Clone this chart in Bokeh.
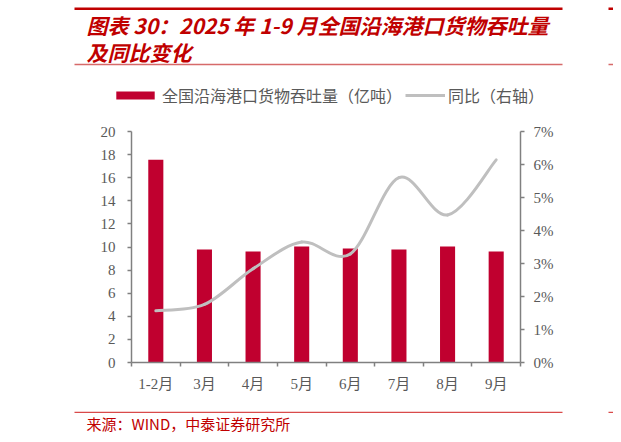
import numpy as np
from bokeh.plotting import figure
from bokeh.layouts import column
from bokeh.models import (Range1d, LinearAxis, FixedTicker, SingleIntervalTicker,
                          PrintfTickFormatter, Legend, LegendItem)
from bokeh.core.properties import value
from bokeh.embed import file_html
from bokeh.resources import INLINE

# ---- data ----
months = ["1-2月", "3月", "4月", "5月", "6月", "7月", "8月", "9月"]
throughput = [17.55, 9.78, 9.61, 10.04, 9.87, 9.78, 10.04, 9.61]   # 亿吨
yoy = [1.57, 1.76, 2.84, 3.65, 3.29, 5.60, 4.47, 6.14]             # %

title_1 = "图表 30：2025 年 1-9 月全国沿海港口货物吞吐量"
title_2 = "及同比变化"
source = "来源：WIND，中泰证券研究所"
bar_label = "全国沿海港口货物吞吐量（亿吨）"
line_label = "同比（右轴）"

RED = "#C0002F"
TITLE_RED = "#C00000"
LINE_GRAY = "#BFBFBF"
AXIS_GRAY = "#808080"
LABEL_GRAY = "#595959"
CJK = "Noto Sans CJK SC"

W = 613
TOP_H, MAIN_H, BOT_H = 115, 285, 34   # page bands 0-115, 115-400, 400-434


def blank(height, y0, y1):
    f = figure(width=W, height=height, output_backend="svg", toolbar_location=None,
               x_range=Range1d(0, W), y_range=Range1d(y1, y0),
               x_axis_location=None, y_axis_location=None, frame_align=False,
               min_border=0, min_border_left=0, min_border_right=0,
               min_border_top=0, min_border_bottom=0)
    f.outline_line_color = None
    f.xgrid.visible = False
    f.ygrid.visible = False
    return f


def rule(f, x0, x1, y0, y1, color):
    f.quad(left=[x0], right=[x1], top=[y0], bottom=[y1], fill_color=color, line_color=None)


# ---------------- top band: title, rules, legend ----------------
top = blank(TOP_H, 0, TOP_H)
rule(top, 74, 562, 7, 9.6, TITLE_RED)
rule(top, 608, W, 7, 9.6, TITLE_RED)
rule(top, 74, 562, 63.3, 64.8, "#D66A6A")
rule(top, 608, W, 63.3, 64.8, "#D66A6A")
top.text(x=[86, 86], y=[24, 51], text=[title_1, title_2],
         text_font=value(CJK), text_font_size="21px", text_font_style="bold italic",
         text_color=TITLE_RED, text_baseline="middle", text_align="left")

# legend proxies (one empty NaN row each, nothing is drawn in the plot area)
proxy_bar = top.vbar(x=[np.nan], top=[np.nan], width=1, fill_color=RED, line_color=None)
proxy_line = top.line(x=[np.nan], y=[np.nan], line_color=LINE_GRAY, line_width=3)

common = dict(orientation="horizontal", padding=0, margin=0, border_line_alpha=0,
              background_fill_alpha=0, label_text_font=CJK, label_text_font_size="16px",
              label_text_color=LABEL_GRAY, label_standoff=3, label_height=16,
              glyph_height=10)
leg_a = Legend(items=[LegendItem(label=bar_label, renderers=[proxy_bar])],
               location=(111, 8), glyph_width=48, **common)
leg_b = Legend(items=[LegendItem(label=line_label, renderers=[proxy_line])],
               location=(405, 8), glyph_width=40, **common)
top.add_layout(leg_a)
top.add_layout(leg_b)

# ---------------- main chart ----------------
p = figure(width=W, height=MAIN_H, output_backend="svg", toolbar_location=None,
           x_range=Range1d(0.5, len(months) + 0.5), y_range=Range1d(0, 20),
           frame_align=False,
           min_border_left=131, min_border_right=W - 520, min_border_top=131 - TOP_H,
           min_border_bottom=TOP_H + MAIN_H - 362)
p.extra_y_ranges = {"pct": Range1d(0, 7)}
p.outline_line_color = None
p.xgrid.visible = False
p.ygrid.visible = False

xs = list(range(1, len(months) + 1))
bars = p.vbar(x=xs, top=throughput, width=0.31, fill_color=RED, line_color=None)

# smooth line: cubic bezier segments through the data points (Catmull-Rom)
xv = np.array(xs, dtype=float)
yv = np.array(yoy, dtype=float)
xp = np.concatenate([[xv[0]], xv, [xv[-1]]])
yp = np.concatenate([[yv[0]], yv, [yv[-1]]])
j = np.arange(1, len(xv))
cx0 = xp[j] + (xp[j + 1] - xp[j - 1]) / 6
cy0 = yp[j] + (yp[j + 1] - yp[j - 1]) / 6
cx1 = xp[j + 1] - (xp[j + 2] - xp[j]) / 6
cy1 = yp[j + 1] - (yp[j + 2] - yp[j]) / 6
p.bezier(x0=xp[j], y0=yp[j], x1=xp[j + 1], y1=yp[j + 1],
         cx0=cx0, cy0=cy0, cx1=cx1, cy1=cy1,
         line_color=LINE_GRAY, line_width=3, line_cap="round", y_range_name="pct")


def style_axis(ax):
    ax.axis_line_color = AXIS_GRAY
    ax.axis_line_width = 1.5
    ax.major_tick_line_color = AXIS_GRAY
    ax.major_tick_line_width = 1.5
    ax.minor_tick_line_color = None
    ax.major_tick_in = 0
    ax.major_tick_out = 4
    ax.major_label_text_font = "Liberation Serif, Noto Sans CJK SC"
    ax.major_label_text_font_size = "15px"
    ax.major_label_text_color = LABEL_GRAY


yax = p.yaxis[0]
style_axis(yax)
yax.ticker = SingleIntervalTicker(interval=2)
yax.major_label_standoff = 12

xax = p.xaxis[0]
style_axis(xax)
xax.ticker = FixedTicker(ticks=xs, minor_ticks=[x - 0.5 for x in xs] + [xs[-1] + 0.5])
xax.major_tick_out = 0
xax.minor_tick_line_color = AXIS_GRAY
xax.minor_tick_line_width = 1.5
xax.minor_tick_in = 0
xax.minor_tick_out = 4
xax.major_label_overrides = {x: m for x, m in zip(xs, months)}
xax.major_label_standoff = 9

rax = LinearAxis(y_range_name="pct", ticker=SingleIntervalTicker(interval=1),
                 formatter=PrintfTickFormatter(format="%d%%"))
style_axis(rax)
rax.major_label_standoff = 9
p.add_layout(rax, "right")

# ---------------- bottom band: source ----------------
bot = blank(BOT_H, TOP_H + MAIN_H, TOP_H + MAIN_H + BOT_H)
rule(bot, 74, 562, 411.2, 412.4, "#D94A4A")
rule(bot, 608, W, 411.2, 412.4, "#D94A4A")
bot.text(x=[86], y=[422.5], text=[source], text_font=value(CJK), text_font_size="15px",
         text_color=TITLE_RED, text_baseline="middle", text_align="left")

layout = column(top, p, bot, spacing=0)
open("out.html", "w").write(file_html(layout, INLINE))
